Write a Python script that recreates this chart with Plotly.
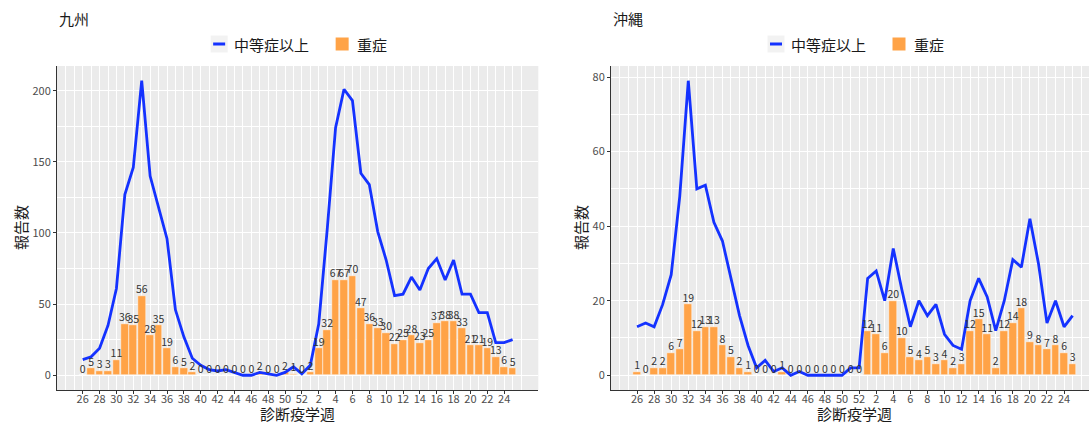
import plotly.graph_objects as go

# Epidemiological weeks (week 26 through week 25 of the following year)
weeks = [26, 27, 28, 29, 30, 31, 32, 33, 34, 35, 36, 37, 38, 39, 40, 41, 42, 43, 44,
         45, 46, 47, 48, 49, 50, 51, 52, 1, 2, 3, 4, 5, 6, 7, 8, 9, 10, 11, 12, 13,
         14, 15, 16, 17, 18, 19, 20, 21, 22, 23, 24, 25]
tick_labels = ["26", "28", "30", "32", "34", "36", "38", "40", "42", "44", "46", "48",
               "50", "52", "2", "4", "6", "8", "10", "12", "14", "16", "18", "20", "22", "24"]

# 九州
kyushu_moderate = [11, 13, 19, 35, 61, 127, 146, 207, 140, 118, 96, 46, 27, 12, 7, 4, 3,
                   4, 2, 0, 0, 2, 1, 0, 2, 6, 1, 7, 36, 102, 174, 201, 193, 142, 134, 101,
                   81, 56, 57, 69, 60, 75, 82, 67, 81, 57, 57, 44, 44, 23, 23, 25]
kyushu_severe = [0, 5, 3, 3, 11, 36, 35, 56, 28, 35, 19, 6, 5, 2, 0, 0, 0, 0, 0, 0, 0, 2,
                 0, 0, 2, 1, 0, 2, 19, 32, 67, 67, 70, 47, 36, 33, 30, 22, 25, 28, 23, 25,
                 37, 38, 38, 33, 21, 21, 19, 13, 6, 5]

# 沖縄
okinawa_moderate = [13, 14, 13, 19, 27, 48, 79, 50, 51, 41, 36, 26, 16, 8, 2, 4, 1, 2, 0,
                    1, 0, 0, 0, 0, 0, 2, 2, 26, 28, 20, 34, 23, 13, 20, 16, 19, 11, 8, 7,
                    20, 26, 21, 12, 20, 31, 29, 42, 30, 14, 20, 13, 16]
okinawa_severe = [1, 0, 2, 2, 6, 7, 19, 12, 13, 13, 8, 5, 2, 1, 0, 0, 0, 1, 0, 0, 0, 0, 0,
                  0, 0, 0, 0, 12, 11, 6, 20, 10, 5, 4, 5, 3, 4, 2, 3, 12, 15, 11, 2, 12,
                  14, 18, 9, 8, 7, 8, 6, 3]

W, H = 1089, 423
FONT = "Noto Sans CJK JP"
BLUE = "#1432FF"
ORANGE = "#FFA347"
PANEL_BG = "#EBEBEB"
TICK_GREY = "#4D4D4D"

pos = list(range(len(weeks)))
tick_pos = pos[::2]
minor_x = [-2, -1] + pos[1::2] + [52]


def px(x):
    return x / W


def py(y):
    return 1 - y / H


panels = [
    dict(name="九州", xa="x", ya="y", mod=kyushu_moderate, sev=kyushu_severe,
         left=57, right=538.3, xr=[-3.05, 54.05], yr=[-10.35, 217.35],
         yt=[0, 50, 100, 150, 200], ym=[25, 75, 125, 175], ytitle_x=20),
    dict(name="沖縄", xa="x2", ya="y2", mod=okinawa_moderate, sev=okinawa_severe,
         left=611, right=1089, xr=[-3.05, 52.92], yr=[-3.95, 82.95],
         yt=[0, 20, 40, 60, 80], ym=[10, 30, 50, 70], ytitle_x=580),
]

fig = go.Figure()
top_px, bottom_px = 66, 390

annotations = []
shapes = []
for i, p in enumerate(panels):
    fig.add_trace(go.Bar(
        x=pos, y=p["sev"], xaxis=p["xa"], yaxis=p["ya"], width=0.9,
        marker=dict(color=ORANGE, line=dict(color="white", width=0.5)),
        showlegend=False, name="重症"))
    fig.add_trace(go.Scatter(
        x=pos, y=p["mod"], xaxis=p["xa"], yaxis=p["ya"], mode="lines",
        line=dict(color=BLUE, width=2.8), showlegend=False, name="中等症以上"))
    fig.add_trace(go.Scatter(
        x=pos, y=p["sev"], xaxis=p["xa"], yaxis=p["ya"], mode="text",
        text=[str(v) for v in p["sev"]], textposition="top center",
        textfont=dict(family=FONT, size=10.5, color="#333333"),
        showlegend=False, cliponaxis=False, hoverinfo="skip"))

    sfx = "" if i == 0 else "2"
    fig.update_layout(**{
        "xaxis" + sfx: dict(
            domain=[px(p["left"]), min(px(p["right"]), 1.0)], range=p["xr"],
            anchor="y" + sfx, tickmode="array", tickvals=tick_pos, ticktext=tick_labels,
            showgrid=True, gridcolor="white", gridwidth=1.1, zeroline=False,
            showline=True, linecolor="#333333", linewidth=1,
            ticks="outside", ticklen=3, tickcolor="#333333", tickwidth=1,
            ticklabelstandoff=-4,
            tickfont=dict(family=FONT, size=11, color=TICK_GREY),
            minor=dict(tickmode="array", tickvals=minor_x, showgrid=True,
                       gridcolor="white", gridwidth=0.5, ticks="")),
        "yaxis" + sfx: dict(
            domain=[py(bottom_px), py(top_px)], range=p["yr"], anchor="x" + sfx,
            tickmode="array", tickvals=p["yt"],
            showgrid=True, gridcolor="white", gridwidth=1.1, zeroline=False,
            showline=True, linecolor="#333333", linewidth=1,
            ticks="outside", ticklen=3, tickcolor="#333333", tickwidth=1,
            tickfont=dict(family=FONT, size=11, color=TICK_GREY),
            minor=dict(tickmode="array", tickvals=p["ym"], showgrid=True,
                       gridcolor="white", gridwidth=0.5, ticks="")),
    })

    # panel title
    annotations.append(dict(text=p["name"], x=px(p["left"]), y=py(19), xref="paper",
                            yref="paper", xanchor="left", yanchor="middle", showarrow=False,
                            font=dict(family=FONT, size=15, color="#1A1A1A")))
    # axis titles
    centre = (p["left"] + (p["right"] if i == 0 else 1098)) / 2
    annotations.append(dict(text="診断疫学週", x=px(centre), y=py(413), xref="paper",
                            yref="paper", xanchor="center", yanchor="middle", showarrow=False,
                            font=dict(family=FONT, size=15, color="#1A1A1A")))
    annotations.append(dict(text="報告数", x=px(p["ytitle_x"]), y=py(228), xref="paper",
                            yref="paper", xanchor="center", yanchor="middle", showarrow=False,
                            textangle=-90, font=dict(family=FONT, size=15, color="#1A1A1A")))

    # legend above each panel
    off = centre - 298
    ly = 44
    shapes.append(dict(type="rect", xref="paper", yref="paper",
                       x0=px(211 + off), x1=px(228 + off), y0=py(ly + 8.5), y1=py(ly - 8.5),
                       fillcolor="#F2F2F2", line=dict(width=0), layer="above"))
    shapes.append(dict(type="line", xref="paper", yref="paper",
                       x0=px(213.5 + off), x1=px(225.5 + off), y0=py(ly), y1=py(ly),
                       line=dict(color=BLUE, width=3), layer="above"))
    annotations.append(dict(text="中等症以上", x=px(232 + off), y=py(ly), xref="paper",
                            yref="paper", xanchor="left", yanchor="middle", showarrow=False,
                            font=dict(family=FONT, size=15, color="#1A1A1A")))
    shapes.append(dict(type="rect", xref="paper", yref="paper",
                       x0=px(336 + off), x1=px(349 + off), y0=py(ly + 6.5), y1=py(ly - 6.5),
                       fillcolor=ORANGE, line=dict(width=0), layer="above"))
    annotations.append(dict(text="重症", x=px(355 + off), y=py(ly), xref="paper",
                            yref="paper", xanchor="left", yanchor="middle", showarrow=False,
                            font=dict(family=FONT, size=15, color="#1A1A1A")))

fig.update_layout(
    width=W, height=H, margin=dict(l=0, r=0, t=0, b=0),
    paper_bgcolor="white", plot_bgcolor=PANEL_BG,
    showlegend=False, bargap=0, barmode="overlay",
    font=dict(family=FONT),
    annotations=annotations, shapes=shapes,
)

fig.write_html("out.html")
